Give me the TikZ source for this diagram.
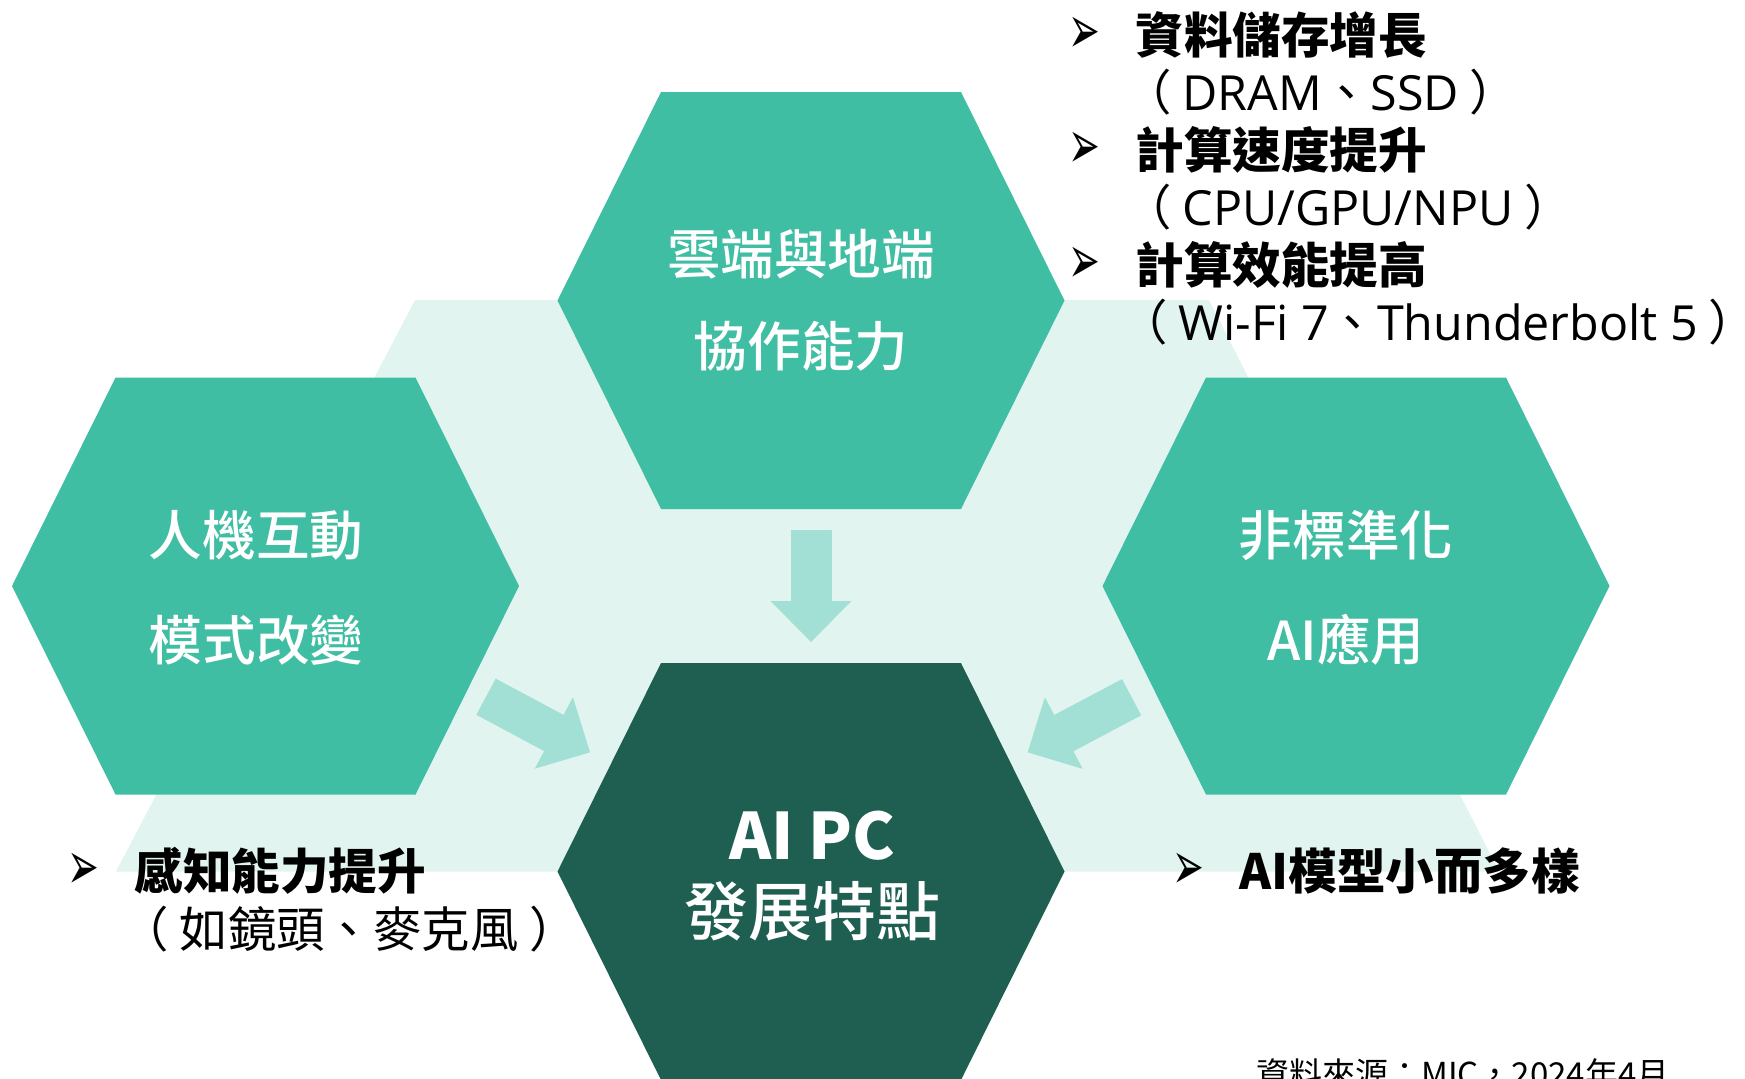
\documentclass[tikz,border=0pt]{standalone}
\usepackage{fontspec}
\setmainfont{Noto Sans CJK TC}
\newfontfamily\medfont{Noto Sans CJK TC Medium}
\newfontfamily\dingfont{DejaVu Sans}
\newfontfamily\latfont{Open Sans}
\newcommand{\lat}[1]{{\latfont #1}}
\newcommand{\pointer}{\scalebox{0.95}[1.7]{➢}}
\usepackage{tikz}
\usetikzlibrary{positioning, calc, arrows.meta}
\definecolor{hexgreen}{HTML}{40BEA3}
\definecolor{coregreen}{HTML}{1F5F52}
\definecolor{paleback}{HTML}{E1F4EF}
\definecolor{arrowgreen}{HTML}{A2DFD4}
\tikzstyle{hexlabel} = [text=white, align=center, inner sep=0pt, font=\medfont\fontsize{26.8}{52.5}\selectfont]
\tikzstyle{corelabel} = [text=white, align=center, inner sep=0pt, font=\medfont\fontsize{32}{38}\selectfont]
\tikzstyle{head} = [anchor=west, inner sep=0pt, font=\bfseries\fontsize{24.3}{29}\selectfont]
\tikzstyle{note} = [anchor=west, inner sep=0pt, font=\fontsize{24.2}{29}\selectfont]
\tikzstyle{bullet} = [inner sep=0pt, font=\dingfont\fontsize{20}{24}\selectfont]
\tikzstyle{flow} = [line width=20.5pt, draw=arrowgreen, -{Triangle[width=40.5pt, length=20.5pt, line width=0pt]}]
\newcommand{\hexcell}[2]{\fill[#2] ($(#1)+(-253.5,0)$) -- ($(#1)+(-150,-208.5)$) -- ($(#1)+(150,-208.5)$) -- ($(#1)+(253.5,0)$) -- ($(#1)+(150,208.5)$) -- ($(#1)+(-150,208.5)$) -- cycle;}

\begin{document}
\begin{tikzpicture}[x=0.5pt, y=-0.5pt]
            \useasboundingbox (0,0) rectangle (1745,1078);
            \coordinate (cloud) at (811,300.5);
            \coordinate (hmi) at (265.5,586);
            \coordinate (custom) at (1356,586);
            \coordinate (core) at (811,871.5);

            \fill[paleback] (415,300) -- (1209,300) -- (1499,871.5) -- (116,871.5) -- cycle;
            \hexcell{cloud}{hexgreen}
            \hexcell{hmi}{hexgreen}
            \hexcell{custom}{hexgreen}
            \hexcell{core}{coregreen}

            \node (cloudtxt) [hexlabel, font=\medfont\fontsize{26.8}{46.25}\selectfont] at (801,300.5) {雲端與地端\\協作能力};
            \node (hmitxt) [hexlabel] at (256,588) {人機互動\\模式改變};
            \node (customtxt) [hexlabel] at (1346,588) {非標準化\\AI應用};
            \node (coretxt) [corelabel] at (812,876) {{\bfseries AI PC}\\發展特點};

            \draw [flow] ($(cloud)+(0,229)$) -- ($(core)+(0,-229.5)$);
            \draw [flow] ($(hmi)+(220.5,110.7)$) -- ($(core)+(-221,-119.2)$);
            \draw [flow] ($(custom)+(-224.4,111.2)$) -- ($(core)+(216.6,-119.2)$);

            \node (storage) [head] at (1135,35) {資料儲存增長};
            \node (storagebullet) [bullet, left=17pt of storage] {\pointer};
            \node (storagenote) [note] at ([xshift=-6pt, yshift=-28.75pt]storage.west) {（ \lat{DRAM}、\lat{SSD} ）};
            \node (speed) [head] at (1135,150) {計算速度提升};
            \node (speedbullet) [bullet, left=17pt of speed] {\pointer};
            \node (speednote) [note] at ([xshift=-6pt, yshift=-28.75pt]speed.west) {（ \lat{CPU/GPU/NPU} ）};
            \node (power) [head] at (1135,265) {計算效能提高};
            \node (powerbullet) [bullet, left=17pt of power] {\pointer};
            \node (powernote) [note] at ([xshift=-8pt, yshift=-28.75pt]power.west) {（ \lat{Wi-Fi 7}、\lat{Thunderbolt 5}\hspace{5pt}\makebox[0.4em][l]{）}};

            \node (sensing) [head] at (134,871) {感知能力提升};
            \node (sensingbullet) [bullet, left=17pt of sensing] {\pointer};
            \node (sensingnote) [note] at ([xshift=-7pt, yshift=-29pt]sensing.west) {（ 如鏡頭、麥克風 ）};

            \node (models) [head] at (1239,871) {AI模型小而多樣};
            \node (modelsbullet) [bullet, left=17pt of models] {\pointer};

            \node (source) [anchor=base west, inner sep=0pt, font=\fontsize{16.5}{20}\selectfont] at (1256,1086) {資料來源：MIC，2024年4月};
        \end{tikzpicture}
\end{document}
